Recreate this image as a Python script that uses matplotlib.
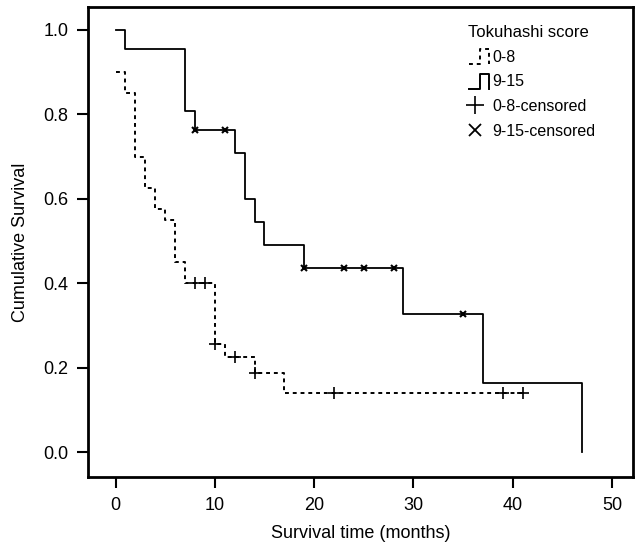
import matplotlib
matplotlib.use("Agg")
import matplotlib.pyplot as plt
from matplotlib.lines import Line2D
from matplotlib.legend_handler import HandlerBase

plt.rcParams['font.family'] = ['Liberation Sans', 'DejaVu Sans']

# --- dados ---
# grupo 0-8
t_low = [0, 1, 2, 3, 4, 5, 6, 7, 10, 11, 14, 17, 41]
s_low = [0.90, 0.85, 0.70, 0.625, 0.575, 0.55, 0.45, 0.40, 0.257, 0.225, 0.187, 0.14, 0.14]
cens_low_t = [8, 9, 10, 12, 14, 22, 39, 41]
cens_low_s = [0.40, 0.40, 0.257, 0.225, 0.187, 0.14, 0.14, 0.14]

# grupo 9-15
t_high = [0, 1, 7, 8, 12, 13, 14, 15, 19, 29, 37, 47, 47]
s_high = [1.0, 0.955, 0.809, 0.764, 0.709, 0.60, 0.545, 0.49, 0.436, 0.327, 0.163, 0.163, 0.0]
cens_high_t = [8, 11, 19, 23, 25, 28, 35]
cens_high_s = [0.764, 0.764, 0.436, 0.436, 0.436, 0.436, 0.327]

x_ticks = [0, 10, 20, 30, 40, 50]
y_ticks = [0.0, 0.2, 0.4, 0.6, 0.8, 1.0]

DASH = (0, (2, 2))


class StepHandler(HandlerBase):
    # desenha o símbolo em degrau da legenda
    def __init__(self, ls):
        super().__init__()
        self.ls = ls

    def create_artists(self, legend, orig_handle, xdescent, ydescent,
                       width, height, fontsize, trans):
        x0 = -xdescent + width * 0.3
        w = width * 0.7
        y0 = -ydescent - height * 0.2
        h = height * 1.35
        xs = [x0, x0 + w * 0.55, x0 + w * 0.55, x0 + w, x0 + w]
        ys = [y0, y0, y0 + h, y0 + h, y0]
        ln = Line2D(xs, ys, color='black', lw=1.4, linestyle=self.ls, transform=trans)
        return [ln]


fig = plt.figure(figsize=(6.36, 5.49), dpi=100)
ax = fig.add_axes([0.138, 0.131, 0.857, 0.856])

h_low, = ax.step(t_low, s_low, where='post', color='black', lw=1.4, linestyle=DASH)
h_high, = ax.step(t_high, s_high, where='post', color='black', lw=1.3)
ax.plot(cens_low_t, cens_low_s, linestyle='none', marker='+', color='black',
        markersize=9, markeredgewidth=1.2)
ax.plot(cens_high_t, cens_high_s, linestyle='none', marker='x', color='black',
        markersize=5, markeredgewidth=1.5)

# marcadores maiores só na legenda
leg_plus = Line2D([], [], linestyle='none', marker='+', color='black',
                  markersize=13, markeredgewidth=1.2)
leg_x = Line2D([], [], linestyle='none', marker='x', color='black',
               markersize=9, markeredgewidth=1.3)

ax.set_xlim(-2.8, 52.1)
ax.set_ylim(-0.059, 1.054)
ax.set_xticks(x_ticks)
ax.set_yticks(y_ticks)
ax.set_yticklabels([f'{v:.1f}' for v in y_ticks])
ax.tick_params(axis='both', direction='out', length=8, width=1.5, labelsize=13, pad=6)
for sp in ax.spines.values():
    sp.set_linewidth(2)

ax.set_xlabel('Survival time (months)', fontsize=13, labelpad=8)
ax.set_ylabel('Cumulative Survival', fontsize=13, labelpad=10)

ax.legend([h_low, h_high, leg_plus, leg_x],
          ['0-8', '9-15', '0-8-censored', '9-15-censored'],
          handler_map={h_low: StepHandler(DASH), h_high: StepHandler('-')},
          title='Tokuhashi score', loc='upper left', bbox_to_anchor=(0.672, 0.975),
          borderaxespad=0, frameon=False, fontsize=11.5, title_fontsize=12,
          handlelength=1.8, handletextpad=0.2, labelspacing=0.6)

fig.savefig('out.png', dpi=100)
